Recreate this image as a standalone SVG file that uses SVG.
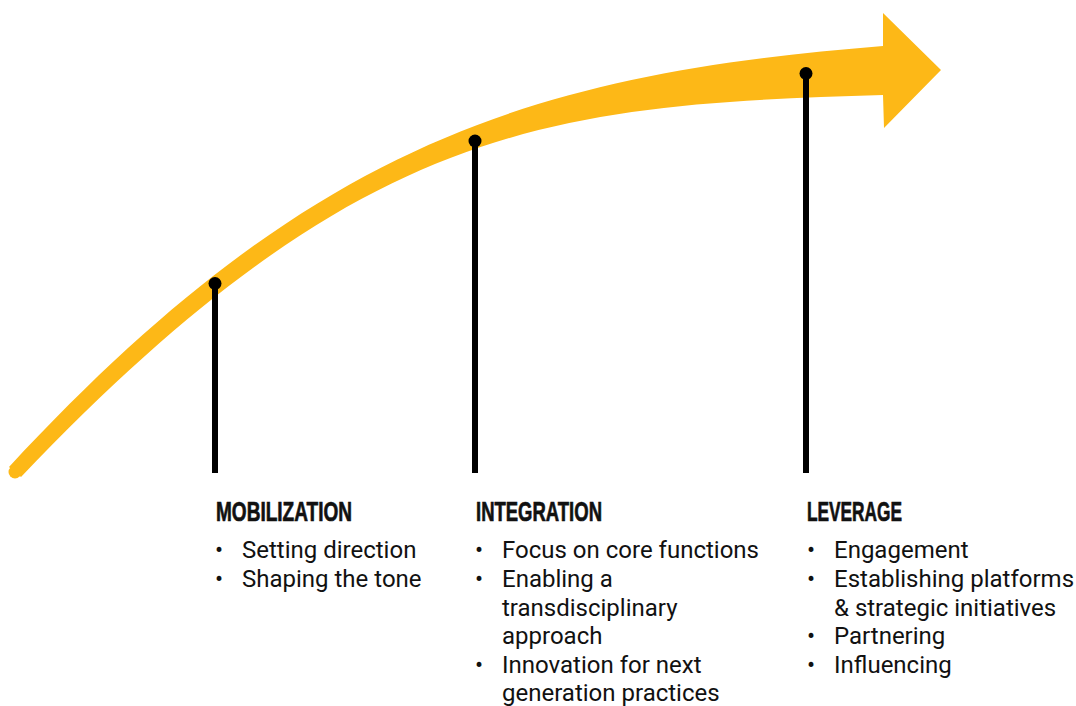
<svg xmlns="http://www.w3.org/2000/svg" width="1076" height="706" viewBox="0 0 1076 706">
<style>
.band{fill:#FDB817}
.stem{stroke:#000;stroke-width:6;fill:none}
.dot{fill:#000}
.head{font-family:"Liberation Sans",Arial,sans-serif;font-weight:bold;font-size:28px;fill:#111;stroke:#111;stroke-width:0.7}
.item{font-family:Roboto,"Liberation Sans",sans-serif;font-size:24px;fill:#111}
</style>
<rect width="1076" height="706" fill="#fff"/>
<g id="arrow">
<path class="band" d="M9,467 C309,143 533,74 883,46 L883,13 L941,70 L884,128 L883,95 C553,105 361,120 21,477 Z"/>
<circle class="band" cx="15" cy="472" r="6.5"/>
</g>
<g id="connectors">
<line class="stem" x1="215" y1="283" x2="215" y2="473"/>
<line class="stem" x1="475" y1="141" x2="475" y2="473"/>
<line class="stem" x1="806" y1="73" x2="806" y2="473"/>
<circle class="dot" cx="215" cy="283.5" r="6.5"/>
<circle class="dot" cx="475" cy="141" r="6.5"/>
<circle class="dot" cx="806" cy="73.5" r="6.5"/>
</g>
<g id="mobilization">
<text class="head" x="216" y="521" textLength="136" lengthAdjust="spacingAndGlyphs">MOBILIZATION</text>
<text class="item" x="215" y="558">•</text><text class="item" x="242" y="558">Setting direction</text>
<text class="item" x="215" y="587">•</text><text class="item" x="242" y="587">Shaping the tone</text>
</g>
<g id="integration">
<text class="head" x="476" y="521" textLength="126" lengthAdjust="spacingAndGlyphs">INTEGRATION</text>
<text class="item" x="475" y="558">•</text><text class="item" x="502" y="558">Focus on core functions</text>
<text class="item" x="475" y="587">•</text><text class="item" x="502" y="587">Enabling a</text>
<text class="item" x="502" y="615.5">transdisciplinary</text>
<text class="item" x="502" y="644">approach</text>
<text class="item" x="475" y="673">•</text><text class="item" x="502" y="673">Innovation for next</text>
<text class="item" x="502" y="701">generation practices</text>
</g>
<g id="leverage">
<text class="head" x="807" y="521" textLength="95" lengthAdjust="spacingAndGlyphs">LEVERAGE</text>
<text class="item" x="807" y="558">•</text><text class="item" x="834" y="558">Engagement</text>
<text class="item" x="807" y="587">•</text><text class="item" x="834" y="587">Establishing platforms</text>
<text class="item" x="834" y="615.5">&amp; strategic initiatives</text>
<text class="item" x="807" y="644">•</text><text class="item" x="834" y="644">Partnering</text>
<text class="item" x="807" y="673">•</text><text class="item" x="834" y="673">Influencing</text>
</g>
</svg>
